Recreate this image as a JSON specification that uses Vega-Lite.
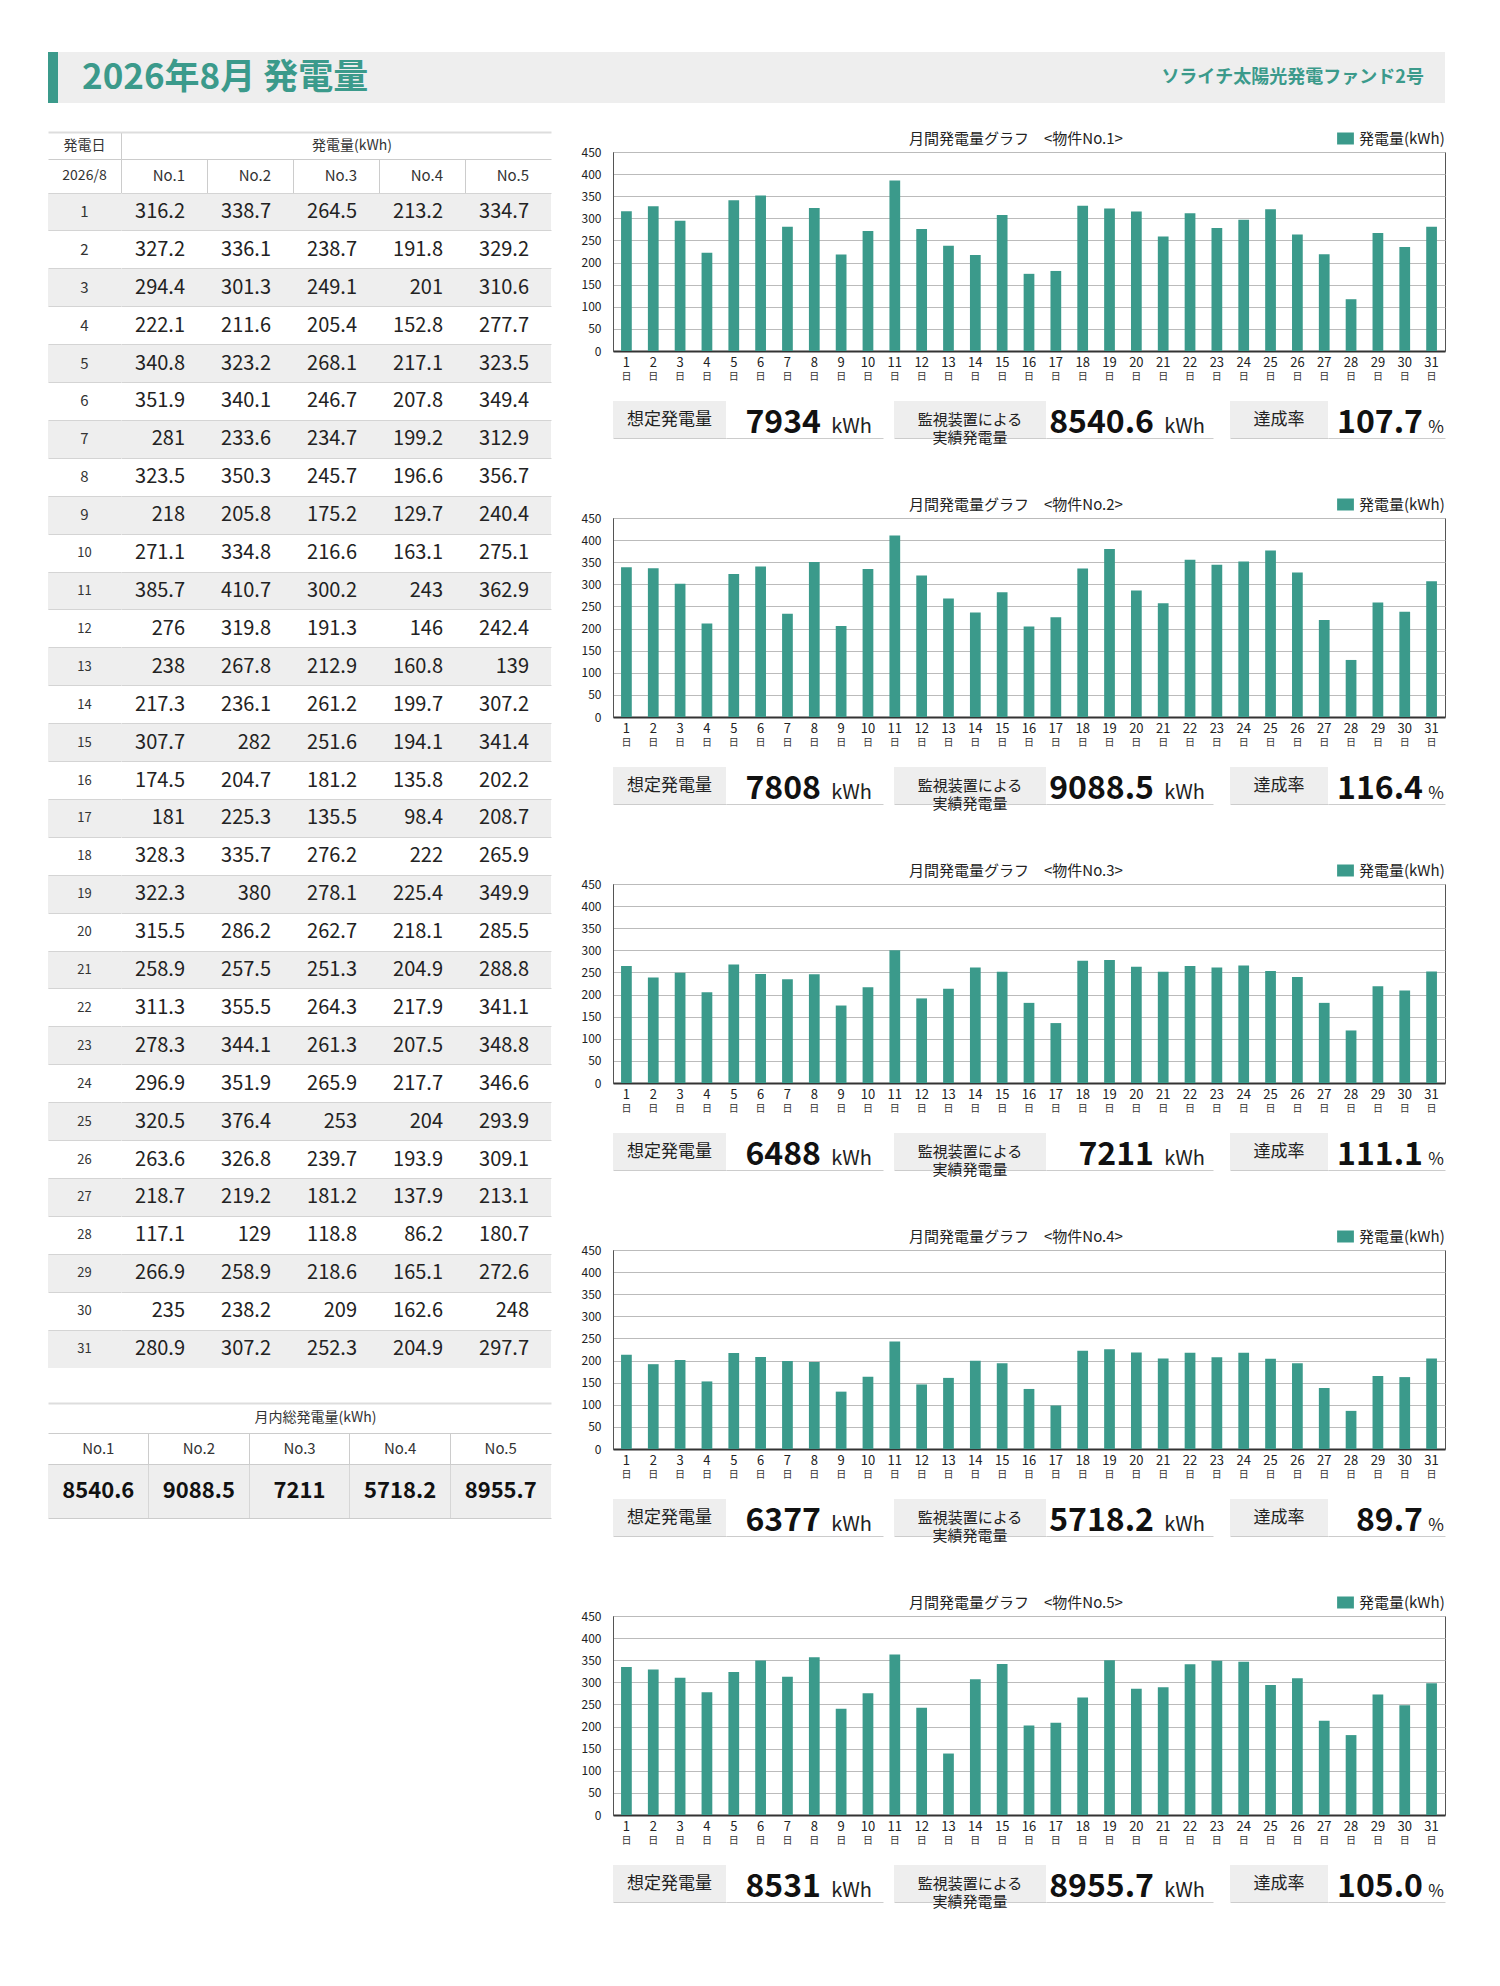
{
"$schema": "https://vega.github.io/schema/vega-lite/v6.json",
"padding": {"left": 48, "top": 52, "right": 0, "bottom": 0},
"background": "#ffffff",
"config": {
  "font": "Noto Sans CJK JP",
  "view": {"stroke": null},
  "legend": {"orient": "top", "direction": "horizontal", "titleOrient": "left", "titlePadding": 215, "titleLimit": 400, "titleFontSize": 15, "titleFontWeight": "normal", "titleColor": "#222222", "titleFont": "Noto Sans CJK JP", "labelFontSize": 15, "labelColor": "#222222", "labelFont": "Noto Sans CJK JP", "labelOffset": 6, "symbolType": "M-1.4,-1L1.4,-1L1.4,1L-1.4,1Z", "symbolSize": 144, "symbolStrokeWidth": 0, "offset": 5, "padding": 0, "layout": {"top": {"anchor": "end"}}}
},
"datasets": {
  "table": [
    {"day": 1, "n1": 316.2, "n2": 338.7, "n3": 264.5, "n4": 213.2, "n5": 334.7},
    {"day": 2, "n1": 327.2, "n2": 336.1, "n3": 238.7, "n4": 191.8, "n5": 329.2},
    {"day": 3, "n1": 294.4, "n2": 301.3, "n3": 249.1, "n4": 201, "n5": 310.6},
    {"day": 4, "n1": 222.1, "n2": 211.6, "n3": 205.4, "n4": 152.8, "n5": 277.7},
    {"day": 5, "n1": 340.8, "n2": 323.2, "n3": 268.1, "n4": 217.1, "n5": 323.5},
    {"day": 6, "n1": 351.9, "n2": 340.1, "n3": 246.7, "n4": 207.8, "n5": 349.4},
    {"day": 7, "n1": 281, "n2": 233.6, "n3": 234.7, "n4": 199.2, "n5": 312.9},
    {"day": 8, "n1": 323.5, "n2": 350.3, "n3": 245.7, "n4": 196.6, "n5": 356.7},
    {"day": 9, "n1": 218, "n2": 205.8, "n3": 175.2, "n4": 129.7, "n5": 240.4},
    {"day": 10, "n1": 271.1, "n2": 334.8, "n3": 216.6, "n4": 163.1, "n5": 275.1},
    {"day": 11, "n1": 385.7, "n2": 410.7, "n3": 300.2, "n4": 243, "n5": 362.9},
    {"day": 12, "n1": 276, "n2": 319.8, "n3": 191.3, "n4": 146, "n5": 242.4},
    {"day": 13, "n1": 238, "n2": 267.8, "n3": 212.9, "n4": 160.8, "n5": 139},
    {"day": 14, "n1": 217.3, "n2": 236.1, "n3": 261.2, "n4": 199.7, "n5": 307.2},
    {"day": 15, "n1": 307.7, "n2": 282, "n3": 251.6, "n4": 194.1, "n5": 341.4},
    {"day": 16, "n1": 174.5, "n2": 204.7, "n3": 181.2, "n4": 135.8, "n5": 202.2},
    {"day": 17, "n1": 181, "n2": 225.3, "n3": 135.5, "n4": 98.4, "n5": 208.7},
    {"day": 18, "n1": 328.3, "n2": 335.7, "n3": 276.2, "n4": 222, "n5": 265.9},
    {"day": 19, "n1": 322.3, "n2": 380, "n3": 278.1, "n4": 225.4, "n5": 349.9},
    {"day": 20, "n1": 315.5, "n2": 286.2, "n3": 262.7, "n4": 218.1, "n5": 285.5},
    {"day": 21, "n1": 258.9, "n2": 257.5, "n3": 251.3, "n4": 204.9, "n5": 288.8},
    {"day": 22, "n1": 311.3, "n2": 355.5, "n3": 264.3, "n4": 217.9, "n5": 341.1},
    {"day": 23, "n1": 278.3, "n2": 344.1, "n3": 261.3, "n4": 207.5, "n5": 348.8},
    {"day": 24, "n1": 296.9, "n2": 351.9, "n3": 265.9, "n4": 217.7, "n5": 346.6},
    {"day": 25, "n1": 320.5, "n2": 376.4, "n3": 253, "n4": 204, "n5": 293.9},
    {"day": 26, "n1": 263.6, "n2": 326.8, "n3": 239.7, "n4": 193.9, "n5": 309.1},
    {"day": 27, "n1": 218.7, "n2": 219.2, "n3": 181.2, "n4": 137.9, "n5": 213.1},
    {"day": 28, "n1": 117.1, "n2": 129, "n3": 118.8, "n4": 86.2, "n5": 180.7},
    {"day": 29, "n1": 266.9, "n2": 258.9, "n3": 218.6, "n4": 165.1, "n5": 272.6},
    {"day": 30, "n1": 235, "n2": 238.2, "n3": 209, "n4": 162.6, "n5": 248},
    {"day": 31, "n1": 280.9, "n2": 307.2, "n3": 252.3, "n4": 204.9, "n5": 297.7}
  ],
  "totals": [
    {"col": "n1", "label": "No.1", "total": "8540.6"},
    {"col": "n2", "label": "No.2", "total": "9088.5"},
    {"col": "n3", "label": "No.3", "total": "7211"},
    {"col": "n4", "label": "No.4", "total": "5718.2"},
    {"col": "n5", "label": "No.5", "total": "8955.7"}
  ]
},
"spacing": 15,
"resolve": {"scale": {"color": "independent"}, "legend": {"color": "independent"}},
"vconcat": [
  {"spacing": 0, "hconcat": [
    {"width": 10, "height": 51, "view": {"fill": "#3b9a8b"}, "data": {"values": [{}]}, "mark": {"type": "text", "text": ""}},
    {"width": 1387, "height": 51, "view": {"fill": "#eeeeee"}, "data": {"values": [{}]}, "layer": [
      {"mark": {"type": "text", "text": "2026年8月 発電量", "align": "left", "dx": 24, "fontSize": 35, "fontWeight": "bold", "color": "#3b9a8b"}, "encoding": {"x": {"datum": "L", "type": "nominal", "scale": {"type": "point", "domain": ["L", "R"], "padding": 0}, "axis": null}}},
      {"mark": {"type": "text", "text": "ソライチ太陽光発電ファンド2号", "align": "right", "dx": -21, "fontSize": 18, "fontWeight": "bold", "color": "#3b9a8b"}, "encoding": {"x": {"datum": "R", "type": "nominal", "scale": {"type": "point", "domain": ["L", "R"], "padding": 0}, "axis": null}}}
    ]}
  ]},
  {"spacing": 29, "resolve": {"scale": {"color": "independent"}, "legend": {"color": "independent"}}, "hconcat": [
    {"spacing": 0, "vconcat": [
      {"width": 1, "height": 6, "data": {"values": [{}]}, "mark": {"type": "text", "text": ""}},
      {"spacing": 0, "hconcat": [
        {"width": 73, "height": 27, "data": {"values": [{"t": "発電日"}]}, "mark": {"type": "text", "fontSize": 14, "color": "#333333"}, "encoding": {"x": {"datum": "c", "type": "nominal", "scale": {"type": "band", "paddingInner": 0, "paddingOuter": 0}, "axis": {"orient": "top", "title": null, "labels": false, "ticks": false, "grid": false, "domainColor": "#dddddd", "domainWidth": 2, "zindex": 1}}, "text": {"field": "t", "type": "nominal"}}},
        {"width": 430, "height": 27, "data": {"values": [{"t": "発電量(kWh)"}]}, "mark": {"type": "text", "fontSize": 14, "color": "#333333", "dx": 16}, "encoding": {"x": {"datum": "c", "type": "nominal", "scale": {"type": "band", "paddingInner": 0, "paddingOuter": 0}, "axis": {"orient": "top", "title": null, "labels": false, "ticks": false, "grid": true, "gridColor": "#cccccc", "bandPosition": 0, "domainColor": "#dddddd", "domainWidth": 2, "zindex": 1}}, "text": {"field": "t", "type": "nominal"}}}
      ]},
      {"spacing": 0, "hconcat": [
        {"width": 73, "height": 34, "data": {"values": [{"t": "2026/8"}]}, "mark": {"type": "text", "fontSize": 14, "color": "#333333"}, "encoding": {"x": {"datum": "c", "type": "nominal", "scale": {"type": "band", "paddingInner": 0, "paddingOuter": 0}, "axis": {"orient": "top", "title": null, "labels": false, "ticks": false, "grid": false, "domainColor": "#cccccc", "zindex": 1}}, "text": {"field": "t", "type": "nominal"}}},
        {"width": 430, "height": 34, "data": {"name": "totals"}, "mark": {"type": "text", "align": "right", "dx": -22, "fontSize": 15, "color": "#333333"}, "encoding": {"x": {"field": "col", "type": "nominal", "bandPosition": 1, "scale": {"type": "band", "domain": ["n1", "n2", "n3", "n4", "n5"], "paddingInner": 0, "paddingOuter": 0}, "axis": {"orient": "top", "title": null, "labels": false, "ticks": false, "grid": true, "gridColor": "#cccccc", "bandPosition": 0, "domainColor": "#cccccc", "zindex": 1}}, "text": {"field": "label", "type": "nominal"}}}
      ]},
      {"spacing": 0, "hconcat": [
        {"width": 73, "height": 1175, "data": {"name": "table"},
         "encoding": {
           "y": {"field": "day", "type": "ordinal", "scale": {"type": "band", "paddingInner": 0, "paddingOuter": 0}, "axis": {"title": null, "labels": false, "ticks": false, "domain": false, "grid": true, "bandPosition": 0, "gridColor": "#d4d4d4", "zindex": 1}}
         },
         "layer": [
           {"mark": {"type": "rect"}, "encoding": {"x": {"datum": "c", "type": "nominal", "scale": {"type": "band", "paddingInner": 0, "paddingOuter": 0}, "axis": {"orient": "bottom", "title": null, "labels": false, "ticks": false, "grid": false, "domain": true, "domainColor": "#cccccc", "zindex": 1}}, "fill": {"condition": {"test": "datum.day % 2 == 1", "value": "#eeeeee"}, "value": "#ffffff"}}},
           {"mark": {"type": "text", "color": "#333333"}, "encoding": {"x": {"datum": "c", "type": "nominal", "scale": {"type": "band", "paddingInner": 0, "paddingOuter": 0}, "axis": null}, "text": {"field": "day", "type": "nominal"}, "size": {"condition": {"test": "datum.day < 10", "value": 15}, "value": 13}}}
         ]},
        {"width": 430, "height": 1175, "data": {"name": "table"},
         "transform": [{"fold": ["n1", "n2", "n3", "n4", "n5"], "as": ["col", "val"]}],
         "encoding": {
           "y": {"field": "day", "type": "ordinal", "scale": {"type": "band", "paddingInner": 0, "paddingOuter": 0}, "axis": {"title": null, "labels": false, "ticks": false, "domain": false, "grid": true, "bandPosition": 0, "gridColor": "#d4d4d4", "zindex": 1}}
         },
         "layer": [
           {"mark": {"type": "rect"}, "encoding": {"x": {"field": "col", "type": "nominal", "scale": {"type": "band", "domain": ["n1", "n2", "n3", "n4", "n5"], "paddingInner": 0, "paddingOuter": 0}, "axis": {"orient": "bottom", "title": null, "labels": false, "ticks": false, "grid": true, "bandPosition": 0, "gridColor": "#c8c8c8", "domainColor": "#cccccc", "zindex": 1}}, "fill": {"condition": {"test": "datum.day % 2 == 1", "value": "#eeeeee"}, "value": "#ffffff"}}},
           {"mark": {"type": "text", "align": "right", "dx": -22, "fontSize": 20, "color": "#222222"}, "encoding": {"x": {"field": "col", "type": "nominal", "bandPosition": 1, "scale": {"type": "band", "domain": ["n1", "n2", "n3", "n4", "n5"], "paddingInner": 0, "paddingOuter": 0}, "axis": null}, "text": {"field": "val", "type": "nominal"}}}
         ]}
      ]},
      {"width": 1, "height": 34, "data": {"values": [{}]}, "mark": {"type": "text", "text": ""}},
      {"width": 503, "height": 30, "data": {"values": [{"t": "月内総発電量(kWh)"}]}, "mark": {"type": "text", "fontSize": 14, "color": "#333333", "dx": 16}, "encoding": {"x": {"datum": "c", "type": "nominal", "scale": {"type": "band", "paddingInner": 0, "paddingOuter": 0}, "axis": {"orient": "top", "title": null, "labels": false, "ticks": false, "grid": false, "domainColor": "#dddddd", "domainWidth": 2, "zindex": 1}}, "text": {"field": "t", "type": "nominal"}}},
      {"width": 503, "height": 31, "data": {"name": "totals"}, "mark": {"type": "text", "fontSize": 15, "color": "#333333"}, "encoding": {"x": {"field": "col", "type": "nominal", "scale": {"type": "band", "domain": ["n1", "n2", "n3", "n4", "n5"], "paddingInner": 0, "paddingOuter": 0}, "axis": {"orient": "top", "title": null, "labels": false, "ticks": false, "grid": true, "bandPosition": 0, "gridColor": "#cccccc", "gridOpacity": {"condition": {"test": "datum.value === 'n1'", "value": 0}, "value": 1}, "domainColor": "#cccccc", "zindex": 1}}, "text": {"field": "label", "type": "nominal"}}},
      {"width": 503, "height": 54, "view": {"fill": "#eeeeee"}, "data": {"name": "totals"}, "mark": {"type": "text", "fontSize": 22, "fontWeight": "bold", "color": "#111111"}, "encoding": {"x": {"field": "col", "type": "nominal", "scale": {"type": "band", "domain": ["n1", "n2", "n3", "n4", "n5"], "paddingInner": 0, "paddingOuter": 0}, "axis": {"orient": "top", "title": null, "labels": false, "ticks": false, "grid": true, "bandPosition": 0, "gridColor": "#d6d6d6", "gridOpacity": {"condition": {"test": "datum.value === 'n1'", "value": 0}, "value": 1}, "domainColor": "#cccccc", "zindex": 1}}, "y": {"datum": "v", "type": "nominal", "scale": {"type": "band", "paddingInner": 0, "paddingOuter": 0}, "axis": {"title": null, "labels": false, "ticks": false, "domain": false, "grid": true, "bandPosition": 1, "gridColor": "#cccccc", "zindex": 1}}, "text": {"field": "total", "type": "nominal"}}}
    ]},
    {"spacing": 0, "resolve": {"scale": {"color": "independent"}, "legend": {"color": "independent"}}, "vconcat": [
     {"width": 1, "height": 1, "data": {"values": [{}]}, "mark": {"type": "text", "text": ""}},
     {"spacing": 50, "resolve": {"scale": {"color": "independent"}, "legend": {"color": "independent"}}, "vconcat": [
      {"spacing": 19, "resolve": {"scale": {"color": "independent"}, "legend": {"color": "independent"}}, "vconcat": [
        {"width": 832, "height": 199, "view": {"stroke": "#555555"}, "data": {"name": "table"},
         "encoding": {"y": {"field": "n1", "type": "quantitative", "scale": {"domain": [0, 450], "nice": false}, "axis": {"title": null, "values": [0, 50, 100, 150, 200, 250, 300, 350, 400, 450], "labelFontSize": 12, "labelColor": "#222222", "labelPadding": 12, "ticks": false, "tickSize": 0, "domainColor": "#555555", "gridColor": "#bbbbbb", "grid": true}}},
         "layer": [
           {"mark": {"type": "bar"}, "encoding": {"x": {"field": "day", "type": "ordinal", "scale": {"type": "band", "paddingInner": 0.6, "paddingOuter": 0.3}, "axis": {"orient": "bottom", "title": null, "labelAngle": 0, "labelFontSize": 13, "labelColor": "#222222", "labelPadding": 5, "ticks": false, "tickSize": 0, "domainColor": "#333333", "domainWidth": 2}}, "color": {"datum": "発電量(kWh)", "type": "nominal", "scale": {"range": ["#3b9a8b"]}, "legend": {"title": "月間発電量グラフ　<物件No.1>"}}}},
           {"mark": {"type": "bar", "opacity": 0}, "encoding": {"x": {"field": "day", "type": "ordinal", "scale": {"type": "band", "paddingInner": 0.6, "paddingOuter": 0.3}, "axis": {"orient": "bottom", "title": null, "labelAngle": 0, "labelFontSize": 10, "labelColor": "#333333", "labelPadding": 20, "ticks": false, "tickSize": 0, "domain": false, "labelExpr": "'日'"}}}}
         ],
         "resolve": {"axis": {"x": "independent"}}},
        {"spacing": 0, "hconcat": [
          {"width": 113, "height": 37, "view": {"fill": "#eeeeee"}, "data": {"values": [{"t": "想定発電量"}]}, "mark": {"type": "text", "fontSize": 17, "color": "#222222"}, "encoding": {"text": {"field": "t", "type": "nominal"}, "x": {"datum": 0.5, "type": "quantitative", "scale": {"domain": [0, 1]}, "axis": {"orient": "bottom", "title": null, "labels": false, "ticks": false, "grid": false, "domainColor": "#cccccc"}}}},
          {"width": 157, "height": 37, "data": {"values": [{"v": "7934", "u": "kWh"}]}, "encoding": {"x": {"datum": 1, "type": "quantitative", "scale": {"domain": [0, 1]}, "axis": {"orient": "bottom", "title": null, "labels": false, "ticks": false, "grid": false, "domainColor": "#cccccc"}}}, "layer": [
            {"mark": {"type": "text", "align": "right", "baseline": "alphabetic", "dx": -62, "dy": 13, "fontSize": 32, "fontWeight": "bold", "color": "#111111"}, "encoding": {"text": {"field": "v", "type": "nominal"}}},
            {"mark": {"type": "text", "align": "right", "baseline": "alphabetic", "dx": -11, "dy": 13, "fontSize": 20, "color": "#222222"}, "encoding": {"text": {"field": "u", "type": "nominal"}}}]},
          {"width": 11, "height": 37, "data": {"values": [{}]}, "mark": {"type": "text", "text": ""}},
          {"width": 152, "height": 37, "view": {"fill": "#eeeeee"}, "data": {"values": [{"t": "監視装置による\n実績発電量"}]}, "mark": {"type": "text", "fontSize": 15, "color": "#222222", "lineBreak": "\n", "lineHeight": 18}, "encoding": {"text": {"field": "t", "type": "nominal"}, "x": {"datum": 0.5, "type": "quantitative", "scale": {"domain": [0, 1]}, "axis": {"orient": "bottom", "title": null, "labels": false, "ticks": false, "grid": false, "domainColor": "#cccccc"}}}},
          {"width": 167, "height": 37, "data": {"values": [{"v": "8540.6", "u": "kWh"}]}, "encoding": {"x": {"datum": 1, "type": "quantitative", "scale": {"domain": [0, 1]}, "axis": {"orient": "bottom", "title": null, "labels": false, "ticks": false, "grid": false, "domainColor": "#cccccc"}}}, "layer": [
            {"mark": {"type": "text", "align": "right", "baseline": "alphabetic", "dx": -59, "dy": 13, "fontSize": 32, "fontWeight": "bold", "color": "#111111"}, "encoding": {"text": {"field": "v", "type": "nominal"}}},
            {"mark": {"type": "text", "align": "right", "baseline": "alphabetic", "dx": -8, "dy": 13, "fontSize": 20, "color": "#222222"}, "encoding": {"text": {"field": "u", "type": "nominal"}}}]},
          {"width": 17, "height": 37, "data": {"values": [{}]}, "mark": {"type": "text", "text": ""}},
          {"width": 98, "height": 37, "view": {"fill": "#eeeeee"}, "data": {"values": [{"t": "達成率"}]}, "mark": {"type": "text", "fontSize": 17, "color": "#222222"}, "encoding": {"text": {"field": "t", "type": "nominal"}, "x": {"datum": 0.5, "type": "quantitative", "scale": {"domain": [0, 1]}, "axis": {"orient": "bottom", "title": null, "labels": false, "ticks": false, "grid": false, "domainColor": "#cccccc"}}}},
          {"width": 117, "height": 37, "data": {"values": [{"v": "107.7", "u": "%"}]}, "encoding": {"x": {"datum": 1, "type": "quantitative", "scale": {"domain": [0, 1]}, "axis": {"orient": "bottom", "title": null, "labels": false, "ticks": false, "grid": false, "domainColor": "#cccccc"}}}, "layer": [
            {"mark": {"type": "text", "align": "right", "baseline": "alphabetic", "dx": -22, "dy": 13, "fontSize": 32, "fontWeight": "bold", "color": "#111111"}, "encoding": {"text": {"field": "v", "type": "nominal"}}},
            {"mark": {"type": "text", "align": "right", "baseline": "alphabetic", "dx": -1, "dy": 13, "fontSize": 17, "color": "#222222"}, "encoding": {"text": {"field": "u", "type": "nominal"}}}]}
        ]}
      ]},
      {"spacing": 19, "resolve": {"scale": {"color": "independent"}, "legend": {"color": "independent"}}, "vconcat": [
        {"width": 832, "height": 199, "view": {"stroke": "#555555"}, "data": {"name": "table"},
         "encoding": {"y": {"field": "n2", "type": "quantitative", "scale": {"domain": [0, 450], "nice": false}, "axis": {"title": null, "values": [0, 50, 100, 150, 200, 250, 300, 350, 400, 450], "labelFontSize": 12, "labelColor": "#222222", "labelPadding": 12, "ticks": false, "tickSize": 0, "domainColor": "#555555", "gridColor": "#bbbbbb", "grid": true}}},
         "layer": [
           {"mark": {"type": "bar"}, "encoding": {"x": {"field": "day", "type": "ordinal", "scale": {"type": "band", "paddingInner": 0.6, "paddingOuter": 0.3}, "axis": {"orient": "bottom", "title": null, "labelAngle": 0, "labelFontSize": 13, "labelColor": "#222222", "labelPadding": 5, "ticks": false, "tickSize": 0, "domainColor": "#333333", "domainWidth": 2}}, "color": {"datum": "発電量(kWh)", "type": "nominal", "scale": {"range": ["#3b9a8b"]}, "legend": {"title": "月間発電量グラフ　<物件No.2>"}}}},
           {"mark": {"type": "bar", "opacity": 0}, "encoding": {"x": {"field": "day", "type": "ordinal", "scale": {"type": "band", "paddingInner": 0.6, "paddingOuter": 0.3}, "axis": {"orient": "bottom", "title": null, "labelAngle": 0, "labelFontSize": 10, "labelColor": "#333333", "labelPadding": 20, "ticks": false, "tickSize": 0, "domain": false, "labelExpr": "'日'"}}}}
         ],
         "resolve": {"axis": {"x": "independent"}}},
        {"spacing": 0, "hconcat": [
          {"width": 113, "height": 37, "view": {"fill": "#eeeeee"}, "data": {"values": [{"t": "想定発電量"}]}, "mark": {"type": "text", "fontSize": 17, "color": "#222222"}, "encoding": {"text": {"field": "t", "type": "nominal"}, "x": {"datum": 0.5, "type": "quantitative", "scale": {"domain": [0, 1]}, "axis": {"orient": "bottom", "title": null, "labels": false, "ticks": false, "grid": false, "domainColor": "#cccccc"}}}},
          {"width": 157, "height": 37, "data": {"values": [{"v": "7808", "u": "kWh"}]}, "encoding": {"x": {"datum": 1, "type": "quantitative", "scale": {"domain": [0, 1]}, "axis": {"orient": "bottom", "title": null, "labels": false, "ticks": false, "grid": false, "domainColor": "#cccccc"}}}, "layer": [
            {"mark": {"type": "text", "align": "right", "baseline": "alphabetic", "dx": -62, "dy": 13, "fontSize": 32, "fontWeight": "bold", "color": "#111111"}, "encoding": {"text": {"field": "v", "type": "nominal"}}},
            {"mark": {"type": "text", "align": "right", "baseline": "alphabetic", "dx": -11, "dy": 13, "fontSize": 20, "color": "#222222"}, "encoding": {"text": {"field": "u", "type": "nominal"}}}]},
          {"width": 11, "height": 37, "data": {"values": [{}]}, "mark": {"type": "text", "text": ""}},
          {"width": 152, "height": 37, "view": {"fill": "#eeeeee"}, "data": {"values": [{"t": "監視装置による\n実績発電量"}]}, "mark": {"type": "text", "fontSize": 15, "color": "#222222", "lineBreak": "\n", "lineHeight": 18}, "encoding": {"text": {"field": "t", "type": "nominal"}, "x": {"datum": 0.5, "type": "quantitative", "scale": {"domain": [0, 1]}, "axis": {"orient": "bottom", "title": null, "labels": false, "ticks": false, "grid": false, "domainColor": "#cccccc"}}}},
          {"width": 167, "height": 37, "data": {"values": [{"v": "9088.5", "u": "kWh"}]}, "encoding": {"x": {"datum": 1, "type": "quantitative", "scale": {"domain": [0, 1]}, "axis": {"orient": "bottom", "title": null, "labels": false, "ticks": false, "grid": false, "domainColor": "#cccccc"}}}, "layer": [
            {"mark": {"type": "text", "align": "right", "baseline": "alphabetic", "dx": -59, "dy": 13, "fontSize": 32, "fontWeight": "bold", "color": "#111111"}, "encoding": {"text": {"field": "v", "type": "nominal"}}},
            {"mark": {"type": "text", "align": "right", "baseline": "alphabetic", "dx": -8, "dy": 13, "fontSize": 20, "color": "#222222"}, "encoding": {"text": {"field": "u", "type": "nominal"}}}]},
          {"width": 17, "height": 37, "data": {"values": [{}]}, "mark": {"type": "text", "text": ""}},
          {"width": 98, "height": 37, "view": {"fill": "#eeeeee"}, "data": {"values": [{"t": "達成率"}]}, "mark": {"type": "text", "fontSize": 17, "color": "#222222"}, "encoding": {"text": {"field": "t", "type": "nominal"}, "x": {"datum": 0.5, "type": "quantitative", "scale": {"domain": [0, 1]}, "axis": {"orient": "bottom", "title": null, "labels": false, "ticks": false, "grid": false, "domainColor": "#cccccc"}}}},
          {"width": 117, "height": 37, "data": {"values": [{"v": "116.4", "u": "%"}]}, "encoding": {"x": {"datum": 1, "type": "quantitative", "scale": {"domain": [0, 1]}, "axis": {"orient": "bottom", "title": null, "labels": false, "ticks": false, "grid": false, "domainColor": "#cccccc"}}}, "layer": [
            {"mark": {"type": "text", "align": "right", "baseline": "alphabetic", "dx": -22, "dy": 13, "fontSize": 32, "fontWeight": "bold", "color": "#111111"}, "encoding": {"text": {"field": "v", "type": "nominal"}}},
            {"mark": {"type": "text", "align": "right", "baseline": "alphabetic", "dx": -1, "dy": 13, "fontSize": 17, "color": "#222222"}, "encoding": {"text": {"field": "u", "type": "nominal"}}}]}
        ]}
      ]},
      {"spacing": 19, "resolve": {"scale": {"color": "independent"}, "legend": {"color": "independent"}}, "vconcat": [
        {"width": 832, "height": 199, "view": {"stroke": "#555555"}, "data": {"name": "table"},
         "encoding": {"y": {"field": "n3", "type": "quantitative", "scale": {"domain": [0, 450], "nice": false}, "axis": {"title": null, "values": [0, 50, 100, 150, 200, 250, 300, 350, 400, 450], "labelFontSize": 12, "labelColor": "#222222", "labelPadding": 12, "ticks": false, "tickSize": 0, "domainColor": "#555555", "gridColor": "#bbbbbb", "grid": true}}},
         "layer": [
           {"mark": {"type": "bar"}, "encoding": {"x": {"field": "day", "type": "ordinal", "scale": {"type": "band", "paddingInner": 0.6, "paddingOuter": 0.3}, "axis": {"orient": "bottom", "title": null, "labelAngle": 0, "labelFontSize": 13, "labelColor": "#222222", "labelPadding": 5, "ticks": false, "tickSize": 0, "domainColor": "#333333", "domainWidth": 2}}, "color": {"datum": "発電量(kWh)", "type": "nominal", "scale": {"range": ["#3b9a8b"]}, "legend": {"title": "月間発電量グラフ　<物件No.3>"}}}},
           {"mark": {"type": "bar", "opacity": 0}, "encoding": {"x": {"field": "day", "type": "ordinal", "scale": {"type": "band", "paddingInner": 0.6, "paddingOuter": 0.3}, "axis": {"orient": "bottom", "title": null, "labelAngle": 0, "labelFontSize": 10, "labelColor": "#333333", "labelPadding": 20, "ticks": false, "tickSize": 0, "domain": false, "labelExpr": "'日'"}}}}
         ],
         "resolve": {"axis": {"x": "independent"}}},
        {"spacing": 0, "hconcat": [
          {"width": 113, "height": 37, "view": {"fill": "#eeeeee"}, "data": {"values": [{"t": "想定発電量"}]}, "mark": {"type": "text", "fontSize": 17, "color": "#222222"}, "encoding": {"text": {"field": "t", "type": "nominal"}, "x": {"datum": 0.5, "type": "quantitative", "scale": {"domain": [0, 1]}, "axis": {"orient": "bottom", "title": null, "labels": false, "ticks": false, "grid": false, "domainColor": "#cccccc"}}}},
          {"width": 157, "height": 37, "data": {"values": [{"v": "6488", "u": "kWh"}]}, "encoding": {"x": {"datum": 1, "type": "quantitative", "scale": {"domain": [0, 1]}, "axis": {"orient": "bottom", "title": null, "labels": false, "ticks": false, "grid": false, "domainColor": "#cccccc"}}}, "layer": [
            {"mark": {"type": "text", "align": "right", "baseline": "alphabetic", "dx": -62, "dy": 13, "fontSize": 32, "fontWeight": "bold", "color": "#111111"}, "encoding": {"text": {"field": "v", "type": "nominal"}}},
            {"mark": {"type": "text", "align": "right", "baseline": "alphabetic", "dx": -11, "dy": 13, "fontSize": 20, "color": "#222222"}, "encoding": {"text": {"field": "u", "type": "nominal"}}}]},
          {"width": 11, "height": 37, "data": {"values": [{}]}, "mark": {"type": "text", "text": ""}},
          {"width": 152, "height": 37, "view": {"fill": "#eeeeee"}, "data": {"values": [{"t": "監視装置による\n実績発電量"}]}, "mark": {"type": "text", "fontSize": 15, "color": "#222222", "lineBreak": "\n", "lineHeight": 18}, "encoding": {"text": {"field": "t", "type": "nominal"}, "x": {"datum": 0.5, "type": "quantitative", "scale": {"domain": [0, 1]}, "axis": {"orient": "bottom", "title": null, "labels": false, "ticks": false, "grid": false, "domainColor": "#cccccc"}}}},
          {"width": 167, "height": 37, "data": {"values": [{"v": "7211", "u": "kWh"}]}, "encoding": {"x": {"datum": 1, "type": "quantitative", "scale": {"domain": [0, 1]}, "axis": {"orient": "bottom", "title": null, "labels": false, "ticks": false, "grid": false, "domainColor": "#cccccc"}}}, "layer": [
            {"mark": {"type": "text", "align": "right", "baseline": "alphabetic", "dx": -59, "dy": 13, "fontSize": 32, "fontWeight": "bold", "color": "#111111"}, "encoding": {"text": {"field": "v", "type": "nominal"}}},
            {"mark": {"type": "text", "align": "right", "baseline": "alphabetic", "dx": -8, "dy": 13, "fontSize": 20, "color": "#222222"}, "encoding": {"text": {"field": "u", "type": "nominal"}}}]},
          {"width": 17, "height": 37, "data": {"values": [{}]}, "mark": {"type": "text", "text": ""}},
          {"width": 98, "height": 37, "view": {"fill": "#eeeeee"}, "data": {"values": [{"t": "達成率"}]}, "mark": {"type": "text", "fontSize": 17, "color": "#222222"}, "encoding": {"text": {"field": "t", "type": "nominal"}, "x": {"datum": 0.5, "type": "quantitative", "scale": {"domain": [0, 1]}, "axis": {"orient": "bottom", "title": null, "labels": false, "ticks": false, "grid": false, "domainColor": "#cccccc"}}}},
          {"width": 117, "height": 37, "data": {"values": [{"v": "111.1", "u": "%"}]}, "encoding": {"x": {"datum": 1, "type": "quantitative", "scale": {"domain": [0, 1]}, "axis": {"orient": "bottom", "title": null, "labels": false, "ticks": false, "grid": false, "domainColor": "#cccccc"}}}, "layer": [
            {"mark": {"type": "text", "align": "right", "baseline": "alphabetic", "dx": -22, "dy": 13, "fontSize": 32, "fontWeight": "bold", "color": "#111111"}, "encoding": {"text": {"field": "v", "type": "nominal"}}},
            {"mark": {"type": "text", "align": "right", "baseline": "alphabetic", "dx": -1, "dy": 13, "fontSize": 17, "color": "#222222"}, "encoding": {"text": {"field": "u", "type": "nominal"}}}]}
        ]}
      ]},
      {"spacing": 19, "resolve": {"scale": {"color": "independent"}, "legend": {"color": "independent"}}, "vconcat": [
        {"width": 832, "height": 199, "view": {"stroke": "#555555"}, "data": {"name": "table"},
         "encoding": {"y": {"field": "n4", "type": "quantitative", "scale": {"domain": [0, 450], "nice": false}, "axis": {"title": null, "values": [0, 50, 100, 150, 200, 250, 300, 350, 400, 450], "labelFontSize": 12, "labelColor": "#222222", "labelPadding": 12, "ticks": false, "tickSize": 0, "domainColor": "#555555", "gridColor": "#bbbbbb", "grid": true}}},
         "layer": [
           {"mark": {"type": "bar"}, "encoding": {"x": {"field": "day", "type": "ordinal", "scale": {"type": "band", "paddingInner": 0.6, "paddingOuter": 0.3}, "axis": {"orient": "bottom", "title": null, "labelAngle": 0, "labelFontSize": 13, "labelColor": "#222222", "labelPadding": 5, "ticks": false, "tickSize": 0, "domainColor": "#333333", "domainWidth": 2}}, "color": {"datum": "発電量(kWh)", "type": "nominal", "scale": {"range": ["#3b9a8b"]}, "legend": {"title": "月間発電量グラフ　<物件No.4>"}}}},
           {"mark": {"type": "bar", "opacity": 0}, "encoding": {"x": {"field": "day", "type": "ordinal", "scale": {"type": "band", "paddingInner": 0.6, "paddingOuter": 0.3}, "axis": {"orient": "bottom", "title": null, "labelAngle": 0, "labelFontSize": 10, "labelColor": "#333333", "labelPadding": 20, "ticks": false, "tickSize": 0, "domain": false, "labelExpr": "'日'"}}}}
         ],
         "resolve": {"axis": {"x": "independent"}}},
        {"spacing": 0, "hconcat": [
          {"width": 113, "height": 37, "view": {"fill": "#eeeeee"}, "data": {"values": [{"t": "想定発電量"}]}, "mark": {"type": "text", "fontSize": 17, "color": "#222222"}, "encoding": {"text": {"field": "t", "type": "nominal"}, "x": {"datum": 0.5, "type": "quantitative", "scale": {"domain": [0, 1]}, "axis": {"orient": "bottom", "title": null, "labels": false, "ticks": false, "grid": false, "domainColor": "#cccccc"}}}},
          {"width": 157, "height": 37, "data": {"values": [{"v": "6377", "u": "kWh"}]}, "encoding": {"x": {"datum": 1, "type": "quantitative", "scale": {"domain": [0, 1]}, "axis": {"orient": "bottom", "title": null, "labels": false, "ticks": false, "grid": false, "domainColor": "#cccccc"}}}, "layer": [
            {"mark": {"type": "text", "align": "right", "baseline": "alphabetic", "dx": -62, "dy": 13, "fontSize": 32, "fontWeight": "bold", "color": "#111111"}, "encoding": {"text": {"field": "v", "type": "nominal"}}},
            {"mark": {"type": "text", "align": "right", "baseline": "alphabetic", "dx": -11, "dy": 13, "fontSize": 20, "color": "#222222"}, "encoding": {"text": {"field": "u", "type": "nominal"}}}]},
          {"width": 11, "height": 37, "data": {"values": [{}]}, "mark": {"type": "text", "text": ""}},
          {"width": 152, "height": 37, "view": {"fill": "#eeeeee"}, "data": {"values": [{"t": "監視装置による\n実績発電量"}]}, "mark": {"type": "text", "fontSize": 15, "color": "#222222", "lineBreak": "\n", "lineHeight": 18}, "encoding": {"text": {"field": "t", "type": "nominal"}, "x": {"datum": 0.5, "type": "quantitative", "scale": {"domain": [0, 1]}, "axis": {"orient": "bottom", "title": null, "labels": false, "ticks": false, "grid": false, "domainColor": "#cccccc"}}}},
          {"width": 167, "height": 37, "data": {"values": [{"v": "5718.2", "u": "kWh"}]}, "encoding": {"x": {"datum": 1, "type": "quantitative", "scale": {"domain": [0, 1]}, "axis": {"orient": "bottom", "title": null, "labels": false, "ticks": false, "grid": false, "domainColor": "#cccccc"}}}, "layer": [
            {"mark": {"type": "text", "align": "right", "baseline": "alphabetic", "dx": -59, "dy": 13, "fontSize": 32, "fontWeight": "bold", "color": "#111111"}, "encoding": {"text": {"field": "v", "type": "nominal"}}},
            {"mark": {"type": "text", "align": "right", "baseline": "alphabetic", "dx": -8, "dy": 13, "fontSize": 20, "color": "#222222"}, "encoding": {"text": {"field": "u", "type": "nominal"}}}]},
          {"width": 17, "height": 37, "data": {"values": [{}]}, "mark": {"type": "text", "text": ""}},
          {"width": 98, "height": 37, "view": {"fill": "#eeeeee"}, "data": {"values": [{"t": "達成率"}]}, "mark": {"type": "text", "fontSize": 17, "color": "#222222"}, "encoding": {"text": {"field": "t", "type": "nominal"}, "x": {"datum": 0.5, "type": "quantitative", "scale": {"domain": [0, 1]}, "axis": {"orient": "bottom", "title": null, "labels": false, "ticks": false, "grid": false, "domainColor": "#cccccc"}}}},
          {"width": 117, "height": 37, "data": {"values": [{"v": "89.7", "u": "%"}]}, "encoding": {"x": {"datum": 1, "type": "quantitative", "scale": {"domain": [0, 1]}, "axis": {"orient": "bottom", "title": null, "labels": false, "ticks": false, "grid": false, "domainColor": "#cccccc"}}}, "layer": [
            {"mark": {"type": "text", "align": "right", "baseline": "alphabetic", "dx": -22, "dy": 13, "fontSize": 32, "fontWeight": "bold", "color": "#111111"}, "encoding": {"text": {"field": "v", "type": "nominal"}}},
            {"mark": {"type": "text", "align": "right", "baseline": "alphabetic", "dx": -1, "dy": 13, "fontSize": 17, "color": "#222222"}, "encoding": {"text": {"field": "u", "type": "nominal"}}}]}
        ]}
      ]},
      {"spacing": 19, "resolve": {"scale": {"color": "independent"}, "legend": {"color": "independent"}}, "vconcat": [
        {"width": 832, "height": 199, "view": {"stroke": "#555555"}, "data": {"name": "table"},
         "encoding": {"y": {"field": "n5", "type": "quantitative", "scale": {"domain": [0, 450], "nice": false}, "axis": {"title": null, "values": [0, 50, 100, 150, 200, 250, 300, 350, 400, 450], "labelFontSize": 12, "labelColor": "#222222", "labelPadding": 12, "ticks": false, "tickSize": 0, "domainColor": "#555555", "gridColor": "#bbbbbb", "grid": true}}},
         "layer": [
           {"mark": {"type": "bar"}, "encoding": {"x": {"field": "day", "type": "ordinal", "scale": {"type": "band", "paddingInner": 0.6, "paddingOuter": 0.3}, "axis": {"orient": "bottom", "title": null, "labelAngle": 0, "labelFontSize": 13, "labelColor": "#222222", "labelPadding": 5, "ticks": false, "tickSize": 0, "domainColor": "#333333", "domainWidth": 2}}, "color": {"datum": "発電量(kWh)", "type": "nominal", "scale": {"range": ["#3b9a8b"]}, "legend": {"title": "月間発電量グラフ　<物件No.5>"}}}},
           {"mark": {"type": "bar", "opacity": 0}, "encoding": {"x": {"field": "day", "type": "ordinal", "scale": {"type": "band", "paddingInner": 0.6, "paddingOuter": 0.3}, "axis": {"orient": "bottom", "title": null, "labelAngle": 0, "labelFontSize": 10, "labelColor": "#333333", "labelPadding": 20, "ticks": false, "tickSize": 0, "domain": false, "labelExpr": "'日'"}}}}
         ],
         "resolve": {"axis": {"x": "independent"}}},
        {"spacing": 0, "hconcat": [
          {"width": 113, "height": 37, "view": {"fill": "#eeeeee"}, "data": {"values": [{"t": "想定発電量"}]}, "mark": {"type": "text", "fontSize": 17, "color": "#222222"}, "encoding": {"text": {"field": "t", "type": "nominal"}, "x": {"datum": 0.5, "type": "quantitative", "scale": {"domain": [0, 1]}, "axis": {"orient": "bottom", "title": null, "labels": false, "ticks": false, "grid": false, "domainColor": "#cccccc"}}}},
          {"width": 157, "height": 37, "data": {"values": [{"v": "8531", "u": "kWh"}]}, "encoding": {"x": {"datum": 1, "type": "quantitative", "scale": {"domain": [0, 1]}, "axis": {"orient": "bottom", "title": null, "labels": false, "ticks": false, "grid": false, "domainColor": "#cccccc"}}}, "layer": [
            {"mark": {"type": "text", "align": "right", "baseline": "alphabetic", "dx": -62, "dy": 13, "fontSize": 32, "fontWeight": "bold", "color": "#111111"}, "encoding": {"text": {"field": "v", "type": "nominal"}}},
            {"mark": {"type": "text", "align": "right", "baseline": "alphabetic", "dx": -11, "dy": 13, "fontSize": 20, "color": "#222222"}, "encoding": {"text": {"field": "u", "type": "nominal"}}}]},
          {"width": 11, "height": 37, "data": {"values": [{}]}, "mark": {"type": "text", "text": ""}},
          {"width": 152, "height": 37, "view": {"fill": "#eeeeee"}, "data": {"values": [{"t": "監視装置による\n実績発電量"}]}, "mark": {"type": "text", "fontSize": 15, "color": "#222222", "lineBreak": "\n", "lineHeight": 18}, "encoding": {"text": {"field": "t", "type": "nominal"}, "x": {"datum": 0.5, "type": "quantitative", "scale": {"domain": [0, 1]}, "axis": {"orient": "bottom", "title": null, "labels": false, "ticks": false, "grid": false, "domainColor": "#cccccc"}}}},
          {"width": 167, "height": 37, "data": {"values": [{"v": "8955.7", "u": "kWh"}]}, "encoding": {"x": {"datum": 1, "type": "quantitative", "scale": {"domain": [0, 1]}, "axis": {"orient": "bottom", "title": null, "labels": false, "ticks": false, "grid": false, "domainColor": "#cccccc"}}}, "layer": [
            {"mark": {"type": "text", "align": "right", "baseline": "alphabetic", "dx": -59, "dy": 13, "fontSize": 32, "fontWeight": "bold", "color": "#111111"}, "encoding": {"text": {"field": "v", "type": "nominal"}}},
            {"mark": {"type": "text", "align": "right", "baseline": "alphabetic", "dx": -8, "dy": 13, "fontSize": 20, "color": "#222222"}, "encoding": {"text": {"field": "u", "type": "nominal"}}}]},
          {"width": 17, "height": 37, "data": {"values": [{}]}, "mark": {"type": "text", "text": ""}},
          {"width": 98, "height": 37, "view": {"fill": "#eeeeee"}, "data": {"values": [{"t": "達成率"}]}, "mark": {"type": "text", "fontSize": 17, "color": "#222222"}, "encoding": {"text": {"field": "t", "type": "nominal"}, "x": {"datum": 0.5, "type": "quantitative", "scale": {"domain": [0, 1]}, "axis": {"orient": "bottom", "title": null, "labels": false, "ticks": false, "grid": false, "domainColor": "#cccccc"}}}},
          {"width": 117, "height": 37, "data": {"values": [{"v": "105.0", "u": "%"}]}, "encoding": {"x": {"datum": 1, "type": "quantitative", "scale": {"domain": [0, 1]}, "axis": {"orient": "bottom", "title": null, "labels": false, "ticks": false, "grid": false, "domainColor": "#cccccc"}}}, "layer": [
            {"mark": {"type": "text", "align": "right", "baseline": "alphabetic", "dx": -22, "dy": 13, "fontSize": 32, "fontWeight": "bold", "color": "#111111"}, "encoding": {"text": {"field": "v", "type": "nominal"}}},
            {"mark": {"type": "text", "align": "right", "baseline": "alphabetic", "dx": -1, "dy": 13, "fontSize": 17, "color": "#222222"}, "encoding": {"text": {"field": "u", "type": "nominal"}}}]}
        ]}
      ]}
     ]}
    ]}
  ]}
]
}
